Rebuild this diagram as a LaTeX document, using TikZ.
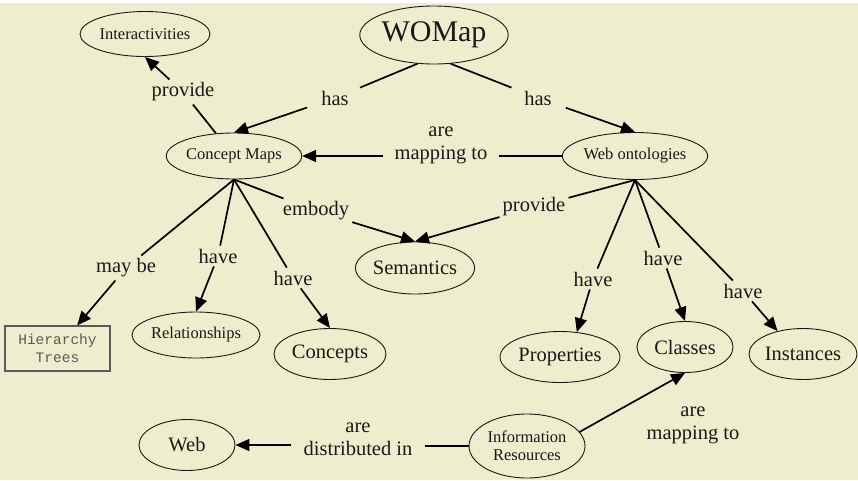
\documentclass[tikz,border=0pt]{standalone}
\usepackage{fontspec}
\setmainfont{Liberation Serif}
\setmonofont{Liberation Mono}
\usetikzlibrary{shapes.geometric,arrows.meta}
\definecolor{paper}{RGB}{238,238,206}
\definecolor{ink}{RGB}{25,25,25}
\definecolor{boxgray}{RGB}{90,90,90}
\begin{document}
\begin{tikzpicture}[x=1pt,y=-1pt,
  bub/.style={ellipse, draw=ink, line width=0.9pt, inner sep=0pt, text=ink, align=center},
  big/.style={font=\fontsize{20.5}{22}\selectfont},
  small/.style={font=\fontsize{16.5}{18.5}\selectfont},
  lbl/.style={font=\fontsize{20.5}{23}\selectfont, align=center, inner sep=3pt, text=ink},
  ln/.style={line width=1.7pt, draw=black},
  arr/.style={ln, -{Triangle[length=14pt,width=12pt]}},
]
\useasboundingbox (0,0) rectangle (858,480);
\fill[white] (0,0) rectangle (858,480);
\fill[paper] (0,3) rectangle (858,480);

% concept nodes
\node[bub, minimum width=145pt, minimum height=58pt, font=\fontsize{30}{32}\selectfont] (womap) at (434,35) {WOMap};
\node[bub, small, minimum width=130pt, minimum height=45pt] (inter) at (145,34) {Interactivities};
\node[bub, small, minimum width=134pt, minimum height=46pt] (cm) at (234,156) {Concept Maps};
\node[bub, small, minimum width=144pt, minimum height=47pt] (wo) at (635,156) {Web ontologies};
\node[bub, big, minimum width=118pt, minimum height=52pt] (sem) at (415,268) {Semantics};
\node[draw=boxgray, line width=1.2pt, minimum width=105pt, minimum height=45pt, inner sep=0pt,
      align=center, text=boxgray, font=\ttfamily\fontsize{14.5}{18}\selectfont] (ht) at (57.5,348.5) {Hierarchy\\Trees};
\node[bub, small, minimum width=128pt, minimum height=46pt] (rel) at (196,335) {Relationships};
\node[bub, big, minimum width=112pt, minimum height=51pt] (conc) at (330,354) {Concepts};
\node[bub, big, minimum width=120pt, minimum height=51pt] (prop) at (560,357) {Properties};
\node[bub, big, minimum width=96pt, minimum height=51pt] (cls) at (685,347) {Classes};
\node[bub, big, minimum width=108pt, minimum height=51pt] (inst) at (803,354) {Instances};
\node[bub, small, minimum width=116pt, minimum height=64pt] (ir) at (527,446) {Information\\Resources};
\node[bub, big, minimum width=96pt, minimum height=51pt] (web) at (187,445) {Web};

% link phrases
\node[lbl] (pr1) at (183,92) {provide};
\node[lbl, inner xsep=14pt] (has1) at (335,98) {has};
\node[lbl, inner xsep=14pt] (has2) at (538,98) {has};
\node[lbl, inner xsep=11pt] (map1) at (441,145) {are\\mapping to};
\node[lbl] (emb) at (316,211) {embody};
\node[lbl] (pr2) at (534,207) {provide};
\node[lbl] (may) at (126,268) {may be};
\node[lbl] (hv1) at (218,256) {have};
\node[lbl] (hv2) at (293,278) {have};
\node[lbl] (hv3) at (593,279) {have};
\node[lbl] (hv4) at (663,258) {have};
\node[lbl] (hv5) at (743,291) {have};
\node[lbl, inner xsep=12pt] (dist) at (358,439) {are\\distributed in};
\node[lbl] (map2) at (693,425) {are\\mapping to};

% connectors
\draw[ln] (cm) -- (pr1);
\draw[arr] (pr1) -- (inter.south);

\draw[ln] (womap.240) -- (has1);
\draw[arr] (has1) -- (cm.north);
\draw[ln] (womap.300) -- (has2);
\draw[arr] (has2) -- (wo.north);

\draw[ln] (wo.west) -- (wo.west -| map1.east);
\draw[arr] (map1.west |- cm.east) -- (cm.east);

\draw[ln] (cm.south) -- (emb);
\draw[arr] (emb) -- (sem.north);
\draw[ln] (wo.south) -- (pr2);
\draw[arr] (pr2) -- (sem.north);

\draw[ln] (cm.south) -- (may);
\draw[arr] (may) -- (ht);
\draw[ln] (cm.south) -- (hv1);
\draw[arr] (hv1) -- (rel.north);
\draw[ln] (cm.south) -- (hv2);
\draw[arr] (hv2) -- (conc.north);

\draw[ln] (wo.south) -- (hv3);
\draw[arr] (hv3) -- (prop.56);
\draw[ln] (wo.south) -- (hv4);
\draw[arr] (hv4) -- (cls.north);
\draw[ln] (wo.south) -- (hv5);
\draw[arr] (hv5) -- (inst.138);

\draw[ln] (ir.west) -- (ir.west -| dist.east);
\draw[arr] (dist.west |- web.east) -- (web.east);
\draw[arr] (ir.15) -- (cls.south);
\end{tikzpicture}
\end{document}
